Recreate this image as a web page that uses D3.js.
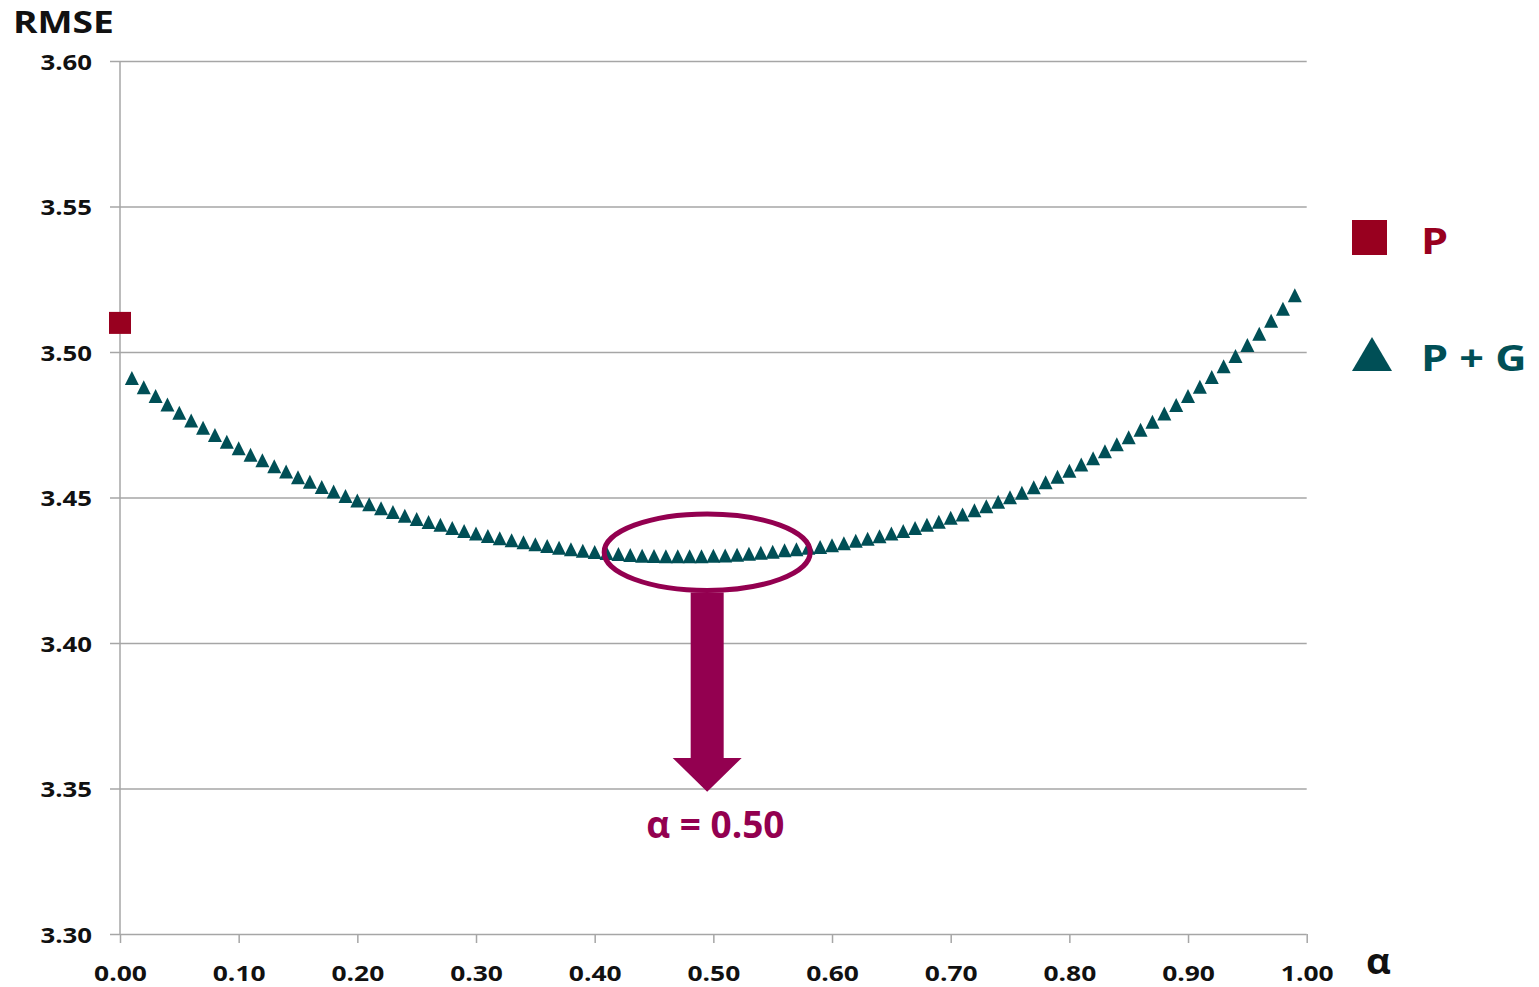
<!DOCTYPE html>
<html><head><meta charset="utf-8">
<script src="https://cdn.jsdelivr.net/npm/d3@7"></script>
<style>
html,body{margin:0;padding:0;background:#fff;}
svg{display:block;}
text{font-family:"Open Sans",sans-serif;font-weight:700;}
</style></head>
<body><svg id="chart" width="1539" height="987"></svg>
<script>
// ---- data ----
const alphas = [0.01,0.02,0.03,0.04,0.05,0.06,0.07,0.08,0.09,0.10,
0.11,0.12,0.13,0.14,0.15,0.16,0.17,0.18,0.19,0.20,
0.21,0.22,0.23,0.24,0.25,0.26,0.27,0.28,0.29,0.30,
0.31,0.32,0.33,0.34,0.35,0.36,0.37,0.38,0.39,0.40,
0.41,0.42,0.43,0.44,0.45,0.46,0.47,0.48,0.49,0.50,
0.51,0.52,0.53,0.54,0.55,0.56,0.57,0.58,0.59,0.60,
0.61,0.62,0.63,0.64,0.65,0.66,0.67,0.68,0.69,0.70,
0.71,0.72,0.73,0.74,0.75,0.76,0.77,0.78,0.79,0.80,
0.81,0.82,0.83,0.84,0.85,0.86,0.87,0.88,0.89,0.90,
0.91,0.92,0.93,0.94,0.95,0.96,0.97,0.98,0.99];
const pgValues = [3.4911,3.4879,3.4849,3.4820,3.4791,3.4765,3.4740,3.4715,3.4692,3.4669,
3.4647,3.4628,3.4607,3.4589,3.4570,3.4554,3.4536,3.4521,3.4505,3.4490,
3.4477,3.4463,3.4450,3.4437,3.4426,3.4416,3.4406,3.4395,3.4385,3.4376,
3.4368,3.4360,3.4353,3.4346,3.4339,3.4333,3.4327,3.4322,3.4317,3.4313,
3.4309,3.4306,3.4302,3.4300,3.4299,3.4298,3.4298,3.4298,3.4298,3.4300,
3.4301,3.4303,3.4307,3.4310,3.4314,3.4319,3.4322,3.4327,3.4330,3.4336,
3.4343,3.4351,3.4358,3.4367,3.4376,3.4385,3.4395,3.4406,3.4417,3.4430,
3.4442,3.4456,3.4470,3.4485,3.4501,3.4516,3.4535,3.4552,3.4571,3.4592,
3.4613,3.4635,3.4659,3.4683,3.4707,3.4733,3.4760,3.4789,3.4818,3.4849,
3.4881,3.4914,3.4951,3.4986,3.5024,3.5063,3.5107,3.5149,3.5195];
const pAlpha = [0.00];
const pValues = [3.510];
const xTicks = [0,0.1,0.2,0.3,0.4,0.5,0.6,0.7,0.8,0.9,1.0];
const yTicks = [3.30,3.35,3.40,3.45,3.50,3.55,3.60];
const seriesNames = ["P","P + G"];
const yTitle = "RMSE";
const xTitle = "α";
const bestAlpha = 0.50;
const annotationText = "α = 0.50";

// ---- layout ----
const svg = d3.select("#chart");
const x = d3.scaleLinear().domain([0,1]).range([120,1306.7]);
const y = d3.scaleLinear().domain([3.30,3.60]).range([934,61]);
const SX = 1.2; // horizontal text stretch
const gridCol = "#a6a6a6";
const red = "#98001f", teal = "#004f56", mag = "#930050";

// y axis + gridlines
const gy = svg.append("g").attr("transform",`translate(${x(0)},0)`)
  .call(d3.axisLeft(y).tickValues(yTicks).tickFormat(d3.format(".2f")).tickSizeOuter(0));
gy.select(".domain").remove();
gy.selectAll(".tick line").attr("x1",-10).attr("x2",x(1)-x(0))
  .attr("stroke",gridCol).attr("stroke-width",1.5);
gy.selectAll(".tick text").attr("x",null).attr("dy",null)
  .attr("transform","translate(-28,8) scale("+SX+",1)")
  .attr("text-anchor","end").attr("fill","#111").style("font-size","21.5px");

// vertical axis line
svg.append("line").attr("x1",x(0)).attr("x2",x(0)).attr("y1",y(3.60)).attr("y2",y(3.30))
  .attr("stroke",gridCol).attr("stroke-width",1.5);

// x axis
const gx = svg.append("g").attr("transform",`translate(0,${y(3.30)})`)
  .call(d3.axisBottom(x).tickValues(xTicks).tickFormat(d3.format(".2f")).tickSize(9).tickSizeOuter(0));
gx.select(".domain").remove();
gx.selectAll(".tick line").attr("stroke",gridCol).attr("stroke-width",1.5);
gx.selectAll(".tick text").attr("y",null).attr("dy",null)
  .attr("transform","translate(0,47) scale("+SX+",1)")
  .attr("text-anchor","middle").attr("fill","#111").style("font-size","22px");

// titles
svg.append("text").attr("transform","translate(13,33) scale("+SX+",1)")
  .attr("fill","#111").style("font-size","31px").text(yTitle);
svg.append("text").attr("transform","translate(1366,974) scale(1.1,1)")
  .attr("fill","#111").style("font-size","35px").text(xTitle);

// P+G triangles
const tri = "M0,-7L7,7L-7,7Z";
svg.append("g").selectAll("path").data(alphas).join("path")
  .attr("d",tri).attr("fill",teal)
  .attr("transform",(d,i)=>`translate(${x(d)},${y(pgValues[i])})`);

// P square
svg.append("g").selectAll("rect").data(pAlpha).join("rect")
  .attr("x",d=>x(d)-11).attr("y",(d,i)=>y(pValues[i])-11)
  .attr("width",22).attr("height",22).attr("fill",red);

// legend
const lg = svg.append("g");
lg.append("rect").attr("x",1352).attr("y",220).attr("width",35).attr("height",35).attr("fill",red);
lg.append("text").attr("transform","translate(1421,254) scale("+SX+",1)")
  .attr("fill",red).style("font-size","36px").text(seriesNames[0]);
lg.append("path").attr("d","M0,-17L20,17L-20,17Z").attr("transform","translate(1372,354)").attr("fill",teal);
lg.append("text").attr("transform","translate(1421,371) scale("+SX+",1)")
  .attr("fill",teal).style("font-size","36px").text(seriesNames[1]);

// annotation: ellipse + arrow + label
const cx = x(0.4948), cy = y(3.4312);
svg.append("ellipse").attr("cx",cx).attr("cy",cy)
  .attr("rx",x(0.4948+0.0868)-cx).attr("ry",y(3.4312-0.01313)-cy)
  .attr("fill","none").attr("stroke",mag).attr("stroke-width",5);
const ax = x(0.4948);
const shaftTop = y(3.4312-0.01313)+2, headTop = y(3.3605), tip = y(3.3489);
const ap = d3.path();
ap.moveTo(ax-16.5,shaftTop); ap.lineTo(ax+16.5,shaftTop); ap.lineTo(ax+16.5,headTop);
ap.lineTo(ax+34.5,headTop); ap.lineTo(ax,tip); ap.lineTo(ax-34.5,headTop);
ap.lineTo(ax-16.5,headTop); ap.closePath();
svg.append("path").attr("d",ap.toString()).attr("fill",mag);
svg.append("text").attr("transform",`translate(${x(bestAlpha)+2},${y(3.333)}) scale(1.0,1)`)
  .attr("text-anchor","middle").attr("fill",mag).style("font-size","37px").text(annotationText);
</script></body></html>
